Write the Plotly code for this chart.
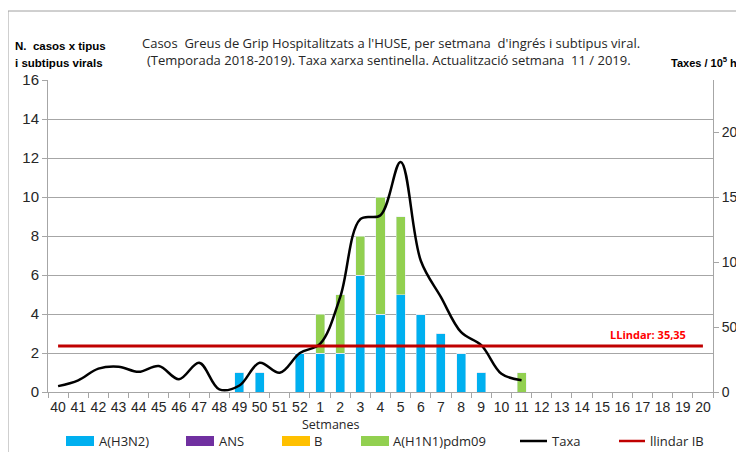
import plotly.graph_objects as go

weeks = [str(w) for w in list(range(40, 53)) + list(range(1, 21))]

h3n2 = [0, 0, 0, 0, 0, 0, 0, 0, 0, 1, 1, 0, 2, 2, 2, 6, 4, 5, 4, 3, 2, 1, 0, 0,
        0, 0, 0, 0, 0, 0, 0, 0, 0]
ans = [0] * 33
b = [0] * 33
h1n1 = [0, 0, 0, 0, 0, 0, 0, 0, 0, 0, 0, 0, 0, 2, 3, 2, 6, 4, 0, 0, 0, 0, 0, 1,
        0, 0, 0, 0, 0, 0, 0, 0, 0]
taxa = [4.5, 9, 18, 19.5, 15.5, 20, 9.8, 22.5, 2, 5, 22.5, 14.8, 30,
        37, 73, 133, 136, 177, 101, 73, 46, 36, 14, 9,
        None, None, None, None, None, None, None, None, None]
llindar_value = 35.35
llindar = [llindar_value] * 33

C_H3 = "#00B0F0"
C_ANS = "#7030A0"
C_B = "#FFC000"
C_H1 = "#92D050"
C_RED = "#C00000"
GRID = "#A6A6A6"
TXT = "#262626"

# page body has an 8px default margin: compensate so the plot area lands
# at x 48..713, y 80..392 of the screenshot
OFF = 8
W, H = 744, 452
PL, PR, PT, PB = 48, 713, 80, 392          # plot area in screenshot pixels
PW, PH = PR - PL, PB - PT
L = PL - OFF
T = PT - OFF
R = W - L - PW
B = H - T - PH


def px(x):
    return (x - PL) / PW


def py(y):
    return (PB - y) / PH


fig = go.Figure()
fig.add_bar(x=weeks, y=h3n2, name="A(H3N2)", marker_color=C_H3)
fig.add_bar(x=weeks, y=ans, name="ANS", marker_color=C_ANS)
fig.add_bar(x=weeks, y=b, name="B", marker_color=C_B)
fig.add_bar(x=weeks, y=h1n1, name="A(H1N1)pdm09", marker_color=C_H1)
fig.add_scatter(x=weeks, y=taxa, name="Taxa", mode="lines", yaxis="y2",
                line=dict(color="black", width=2.5, shape="spline", smoothing=1.0))
fig.add_scatter(x=weeks, y=llindar, name="llindar IB", mode="lines", yaxis="y2",
                line=dict(color=C_RED, width=3))

fig.update_layout(
    width=W, height=H,
    margin=dict(l=L, r=R, t=T, b=B, autoexpand=False),
    paper_bgcolor="white", plot_bgcolor="white",
    barmode="stack", bargap=0.55,
    showlegend=False,
    font=dict(family="Liberation Sans, Arial", size=14, color=TXT),
    xaxis=dict(type="category", categoryorder="array", categoryarray=weeks,
               showline=True, linecolor=GRID, linewidth=1,
               ticks="outside", tickson="boundaries", ticklen=5, tickcolor=GRID,
               tickangle=0, automargin=False, ticklabelstandoff=2,
               showgrid=False, tickfont=dict(size=14, color=TXT)),
    yaxis=dict(range=[0, 16], dtick=2, showline=True, linecolor=GRID,
               ticks="outside", ticklen=5, tickcolor=GRID, automargin=False,
               showgrid=True, gridcolor=GRID, gridwidth=1, zeroline=False,
               tickfont=dict(size=15, color=TXT)),
    yaxis2=dict(range=[0, 240], tickvals=[0, 50, 100, 150, 200], overlaying="y",
                side="right", showline=True, linecolor=GRID,
                ticks="outside", ticklen=5, tickcolor=GRID, automargin=False,
                showgrid=False, zeroline=False,
                tickfont=dict(size=14, color=TXT)),
)

shapes = []
# outer chart border
shapes.append(dict(type="rect", xref="paper", yref="paper",
                   x0=px(8), x1=px(770), y0=py(480), y1=py(11),
                   line=dict(color="#A0A0A0", width=1), fillcolor="rgba(0,0,0,0)",
                   layer="below"))

ann = []
title_font = dict(family="Open Sans, Noto Sans", size=13, color=TXT)
ann.append(dict(text="Casos  Greus de Grip Hospitalitzats a l'HUSE, per setmana  d'ingrés i subtipus viral.",
                x=px(391), y=py(43), xref="paper", yref="paper", showarrow=False,
                xanchor="center", yanchor="middle", font=title_font))
ann.append(dict(text="(Temporada 2018-2019). Taxa xarxa sentinella. Actualització setmana  11 / 2019.",
                x=px(389), y=py(60), xref="paper", yref="paper", showarrow=False,
                xanchor="center", yanchor="middle", font=title_font))
bold_font = dict(family="Liberation Sans, Arial", size=11.5, color="black")
ann.append(dict(text="<b>N.  casos x tipus</b>", x=px(13), y=py(46), xref="paper", yref="paper",
                showarrow=False, xanchor="left", yanchor="middle", font=bold_font))
ann.append(dict(text="<b>i subtipus virals</b>", x=px(13), y=py(63), xref="paper", yref="paper",
                showarrow=False, xanchor="left", yanchor="middle", font=bold_font))
ann.append(dict(text="<b>Taxes / 10<sup>5</sup> h</b>", x=px(669), y=py(62), xref="paper", yref="paper",
                showarrow=False, xanchor="left", yanchor="middle",
                font=dict(family="Liberation Sans, Arial", size=11, color="black")))
ann.append(dict(text="Setmanes", x=px(331), y=py(424), xref="paper", yref="paper",
                showarrow=False, xanchor="center", yanchor="middle",
                font=dict(family="Open Sans, Noto Sans", size=12.5, color=TXT)))
ann.append(dict(text="<b>LLindar: 35,35</b>", x=px(648), y=py(334), xref="paper", yref="paper",
                showarrow=False, xanchor="center", yanchor="middle",
                font=dict(family="Open Sans, Noto Sans", size=11, color="#FF0000")))

# manual legend
leg_font = dict(family="Open Sans, Noto Sans", size=13, color=TXT)
leg_y = 441
legend_items = [
    ("A(H3N2)", C_H3, "rect", 66, 94, 97),
    ("ANS", C_ANS, "rect", 186, 214, 217),
    ("B", C_B, "rect", 282, 310, 312),
    ("A(H1N1)pdm09", C_H1, "rect", 361, 389, 391),
    ("Taxa", "black", "line", 520, 547, 550),
    ("llindar IB", C_RED, "line", 619, 645, 648),
]
for name, col, kind, x0, x1, tx in legend_items:
    if kind == "rect":
        shapes.append(dict(type="rect", xref="paper", yref="paper",
                           x0=px(x0), x1=px(x1), y0=py(leg_y + 5), y1=py(leg_y - 5),
                           fillcolor=col, line=dict(width=0)))
    else:
        shapes.append(dict(type="line", xref="paper", yref="paper",
                           x0=px(x0), x1=px(x1), y0=py(leg_y), y1=py(leg_y),
                           line=dict(color=col, width=2.5)))
    ann.append(dict(text=name, x=px(tx), y=py(leg_y), xref="paper", yref="paper",
                    showarrow=False, xanchor="left", yanchor="middle", font=leg_font))

fig.update_layout(shapes=shapes, annotations=ann)
fig.write_html("out.html")
